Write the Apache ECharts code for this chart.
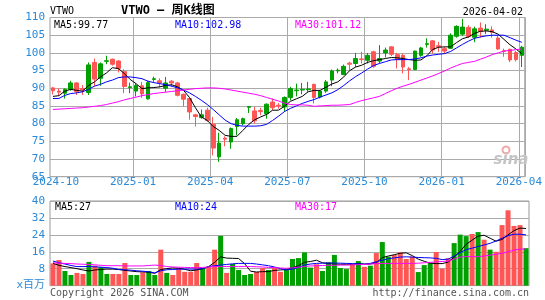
<!DOCTYPE html>
<html><head><meta charset="utf-8">
<script src="https://cdn.jsdelivr.net/npm/echarts@6/dist/echarts.min.js"></script>
<style>html,body{margin:0;padding:0;background:#fff}#c{width:545px;height:300px}</style>
</head><body><div id="c"></div><script>
const dates = [
'2024-09-27','2024-10-04','2024-10-11','2024-10-18','2024-10-25','2024-11-01','2024-11-08','2024-11-15','2024-11-22','2024-11-29',
'2024-12-06','2024-12-13','2024-12-20','2024-12-27','2025-01-03','2025-01-10','2025-01-17','2025-01-24','2025-01-31','2025-02-07',
'2025-02-14','2025-02-21','2025-02-28','2025-03-07','2025-03-14','2025-03-21','2025-03-28','2025-04-04','2025-04-11','2025-04-17',
'2025-04-25','2025-05-02','2025-05-09','2025-05-16','2025-05-23','2025-05-30','2025-06-06','2025-06-13','2025-06-20','2025-06-27',
'2025-07-03','2025-07-11','2025-07-18','2025-07-25','2025-08-01','2025-08-08','2025-08-15','2025-08-22','2025-08-29','2025-09-05',
'2025-09-12','2025-09-19','2025-09-26','2025-10-03','2025-10-10','2025-10-17','2025-10-24','2025-10-31','2025-11-07','2025-11-14',
'2025-11-21','2025-11-28','2025-12-05','2025-12-12','2025-12-19','2025-12-26','2026-01-02','2026-01-09','2026-01-16','2026-01-23',
'2026-01-30','2026-02-06','2026-02-13','2026-02-20','2026-02-27','2026-03-06','2026-03-13','2026-03-20','2026-03-27','2026-04-02'];
const opens = [90.1,89.2,88.6,89.7,91.5,89.9,88.8,97.3,92.8,97.6, 98.2,97.7,94.7,90.2,89.2,90.7,87.0,92.5,92.1,90.0,
92.0,91.5,88.3,87.1,82.5,81.7,83.8,79.8,70.6,75.9, 74.8,79.2,80.0,84.6,83.6,83.7,82.8,86.1,85.2,84.7,
87.4,89.3,89.5,89.6,91.1,87.5,89.2,92.3,94.9,93.9, 97.1,97.0,98.3,97.9,100.3,97.7,100.0,101.7,99.5,99.3,
95.5,95.3,99.3,102.4,103.4,102.0,101.2,101.3,104.7,105.3, 107.2,104.4,107.0,106.4,106.5,104.2,100.6,101.0,100.1,99.3];
const closes = [89.3,88.9,89.7,91.5,89.1,89.6,96.6,92.6,96.9,97.8, 96.8,95.6,90.5,90.4,90.8,88.4,91.6,92.7,91.5,91.5,
91.5,88.0,86.9,83.3,82.0,82.5,80.9,73.1,74.5,75.6, 78.6,81.1,81.4,84.8,80.8,83.4,85.5,84.5,85.0,87.4,
89.9,89.5,89.7,89.8,87.4,89.2,91.8,94.9,95.1,96.2, 96.8,98.4,98.1,99.3,96.2,98.4,100.8,99.6,98.1,96.0,
95.3,100.5,101.4,102.6,100.8,101.7,100.5,105.0,107.5,107.3, 104.6,106.8,106.1,106.7,105.8,101.1,100.4,98.0,98.1,101.6];
const lows = [88.2,87.9,87.1,89.3,88.1,88.1,88.1,90.5,90.7,96.8, 96.4,94.5,88.6,88.6,87.7,87.3,86.8,91.8,90.2,89.0,
90.4,87.7,84.9,81.1,79.2,81.4,80.5,71.0,69.2,73.6, 72.9,76.7,79.5,83.0,80.0,82.4,81.4,83.8,84.2,83.3,
86.6,87.7,88.3,89.0,85.7,87.1,88.7,90.6,94.2,93.7, 95.1,96.0,97.0,97.0,95.8,97.0,98.7,99.1,95.6,94.2,
92.3,95.1,98.9,101.5,99.8,100.3,99.8,101.1,104.3,104.8, 104.2,103.0,104.3,105.3,104.3,100.8,98.9,97.4,97.6,96.0];
const highs = [90.4,90.0,90.0,92.1,91.7,90.9,97.3,98.4,97.3,99.2, 98.4,98.0,95.4,91.6,91.3,91.8,92.1,93.3,92.8,93.2,
92.3,91.8,88.5,87.4,82.8,84.0,84.5,81.9,77.4,76.4, 78.9,81.6,81.7,85.0,84.7,84.5,85.7,87.1,85.8,87.7,
90.4,91.3,91.5,91.8,91.3,89.4,92.3,95.3,95.6,96.7, 97.5,100.0,100.3,100.0,100.6,102.2,101.5,101.9,100.0,99.8,
96.0,100.6,101.7,104.1,103.6,103.1,101.7,105.5,107.8,109.6, 107.8,107.4,108.6,108.1,107.5,105.0,101.2,101.2,100.5,102.0];
const ma5 = [87.7,87.9,89.2,89.7,89.4,89.2,90.8,91.8,93.2,94.3, 95.8,95.6,94.2,92.5,91.3,89.9,90.1,90.2,90.4,90.8,
91.0,90.4,89.4,87.4,84.5,81.9,80.9,79.2,78.1,76.7, 76.4,76.4,78.1,79.8,81.1,81.9,82.6,83.8,83.8,84.9,
86.3,87.0,87.7,89.0,89.4,89.4,90.3,91.2,91.8,93.2, 95.0,96.0,96.5,97.3,97.8,98.1,98.4,98.7,98.6,98.4,
98.1,97.9,98.0,99.2,101.0,101.6,101.7,101.7,102.9,104.0, 104.5,105.5,106.1,106.2,106.0,105.3,103.8,102.3,101.1,99.77];
const ma10 = [87.1,87.1,88.0,88.5,88.7,89.0,89.7,90.6,91.1,91.8, 92.3,93.0,93.2,93.2,93.0,92.7,92.0,91.6,91.3,91.0,
90.6,90.1,89.5,88.7,87.7,86.6,85.4,84.0,82.5,81.0, 80.0,79.5,79.3,79.3,79.3,79.4,79.8,80.9,82.1,83.4,
84.3,85.0,85.7,86.3,86.8,87.5,88.1,88.7,89.6,90.8, 92.1,93.3,94.3,95.4,96.4,97.0,97.5,98.0,98.1,98.1,
98.1,98.3,98.6,99.1,99.4,99.6,99.8,100.4,101.4,102.4, 103.3,104.1,104.5,104.8,105.0,105.0,105.0,104.3,103.6,102.98];
const ma30 = [84.0,84.1,84.2,84.3,84.4,84.5,84.7,84.9,85.1,85.4, 85.8,86.2,86.7,87.1,87.5,87.9,88.2,88.5,88.7,88.9,
89.1,89.3,89.5,89.7,89.9,90.0,90.1,90.1,90.0,89.8, 89.5,89.2,88.9,88.6,88.3,87.9,87.4,86.9,86.4,85.8,
85.4,85.3,85.3,85.2,84.9,85.0,85.1,85.2,85.2,85.3, 85.4,86.0,86.5,86.9,87.3,87.7,88.5,89.3,90.0,90.6,
91.1,91.7,92.3,92.9,93.5,94.2,94.9,95.7,96.4,97.0, 97.3,97.6,98.2,98.8,99.5,100.0,100.5,100.7,100.9,101.12];
const volumes = [10.5,12.1,6.9,5.0,6.0,5.5,11.2,9.4,8.8,5.5, 5.5,5.5,10.7,5.0,5.0,6.3,6.9,5.0,17.0,6.0,
5.0,8.3,6.5,6.5,10.7,8.3,8.8,17.0,23.5,6.0, 10.2,7.4,5.0,5.5,6.5,8.3,7.4,8.3,6.5,7.4,
12.6,13.0,15.7,8.5,10.1,6.9,11.0,14.5,8.3,7.8, 10.1,11.6,8.9,9.4,15.4,20.6,13.7,14.5,15.7,12.6,
13.7,6.4,9.7,10.8,15.9,8.0,12.9,20.1,24.1,23.4, 24.4,25.3,21.7,17.0,16.0,28.6,35.6,28.2,28.6,17.7];
const vma5 = [10.5,9.6,9.0,8.5,8.0,7.4,6.9,7.4,7.6,7.8, 7.8,7.6,7.2,6.9,6.6,6.5,6.3,5.8,7.6,8.0,
8.4,8.2,7.7,7.0,7.4,8.0,9.0,11.0,13.6,13.0, 12.9,12.8,10.4,6.8,6.4,6.6,6.6,7.2,7.4,7.6,
8.4,9.4,11.0,11.4,12.0,10.8,10.4,10.2,10.1,10.1, 10.1,10.4,10.2,10.2,10.8,13.2,14.0,14.6,15.3,15.5,
14.2,12.5,11.5,10.6,10.4,10.4,11.1,13.5,16.2,19.5, 21.5,23.4,23.8,22.4,21.0,21.8,24.0,26.0,27.2,27.0];
const vma10 = [11.6,10.8,10.2,9.5,9.0,9.0,9.0,8.9,8.7,8.5, 8.2,7.6,7.5,7.3,7.0,6.8,6.5,6.0,7.0,7.5,
7.6,7.8,7.8,7.8,7.8,8.0,9.0,9.4,9.7,10.0, 10.3,10.5,10.5,10.5,10.2,9.8,9.4,8.8,8.0,7.4,
7.8,8.6,9.7,10.2,10.5,10.6,10.7,10.7,10.6,10.5, 10.4,10.3,10.1,10.5,11.3,12.0,12.7,13.1,13.5,13.6,
13.5,13.3,13.2,13.1,12.9,12.3,12.5,14.0,15.6,17.0, 17.7,18.5,19.2,20.0,21.1,22.4,23.6,24.3,24.3,24.0];
const vma30 = [10.8,10.6,10.5,10.4,10.2,10.1,10.0,9.8,9.6,9.4, 9.4,9.4,9.3,9.3,9.3,9.3,9.5,9.7,9.5,9.0,
8.8,8.7,8.6,8.5,8.5,8.6,8.8,9.0,9.0,9.0, 9.0,9.0,9.0,9.0,8.9,8.8,8.6,8.5,8.3,8.2,
8.4,8.7,9.0,9.3,9.4,9.5,9.6,9.6,9.7,9.7, 9.8,9.9,10.0,10.2,10.4,10.5,10.5,10.5,10.5,10.5,
10.5,10.6,10.8,11.0,11.2,11.4,11.6,12.5,13.5,13.7, 13.7,13.7,14.0,14.4,14.8,15.3,16.0,16.8,17.2,17.4];
const symbol = 'VTWO';
const chartTitle = 'VTWO – 周K线图';
const quarterMonths = ['01','04','07','10'];

const UP = '#00a000', DOWN = '#ff5555', BLUE = '#2a8ad8', GRID = '#aaaaaa';
const MONO = '"DejaVu Sans Mono", "Noto Sans CJK SC", monospace';
function isQuarterStart(i) {
  if (i <= 0) return false;
  const m = dates[i].slice(5, 7), pm = dates[i - 1].slice(5, 7);
  return m !== pm && quarterMonths.includes(m);
}
const last = dates.length - 1;
const chart = echarts.init(document.getElementById('c'), null, {renderer: 'canvas'});
const txt = (x, y, text, fill, align, font) => ({type: 'text', z: 100, style: {x, y, text, fill, align: align || 'left', verticalAlign: 'middle', font: font || ('10px ' + MONO)}});
chart.setOption({
  animation: false,
  backgroundColor: '#fff',
  grid: [
    {left: 50, right: 16, top: 17.5, height: 159.2, show: true, borderColor: '#999', borderWidth: 1},
    {left: 50, right: 16, top: 201, height: 84.6, show: true, borderColor: '#999', borderWidth: 1}
  ],
  xAxis: [
    {type: 'category', gridIndex: 0, data: dates, boundaryGap: true,
     axisLine: {show: false}, axisTick: {show: false},
     axisLabel: {interval: (i) => isQuarterStart(i), formatter: (v) => v.slice(0, 7), color: BLUE,
       fontFamily: MONO, fontSize: 11, margin: 0, padding: [0, 6, 0, 0], showMaxLabel: true, hideOverlap: false},
     splitLine: {show: true, interval: (i) => isQuarterStart(i) && i > 1, lineStyle: {color: GRID, width: 1}}},
    {type: 'category', gridIndex: 1, data: dates, boundaryGap: true,
     axisLine: {show: false}, axisTick: {show: false}, axisLabel: {show: false}, splitLine: {show: false}}
  ],
  yAxis: [
    {type: 'value', gridIndex: 0, min: 65, max: 110, interval: 5, axisLine: {show: false}, axisTick: {show: false},
     axisLabel: {color: BLUE, fontFamily: MONO, fontSize: 11, margin: 5},
     splitLine: {lineStyle: {color: GRID}}},
    {type: 'value', gridIndex: 1, min: 0, max: 40, interval: 8, axisLine: {show: false}, axisTick: {show: false},
     axisLabel: {color: BLUE, fontFamily: MONO, fontSize: 11, margin: 5, formatter: (v) => v === 0 ? 'x百万' : String(v)},
     splitLine: {lineStyle: {color: GRID}}}
  ],
  series: [
    {type: 'candlestick', xAxisIndex: 0, yAxisIndex: 0, barWidth: '70%', z: 2,
     data: dates.map((d, i) => [opens[i], closes[i], lows[i], highs[i]]),
     itemStyle: {color: UP, color0: DOWN, borderColor: UP, borderColor0: DOWN, borderWidth: 1}},
    {type: 'line', xAxisIndex: 0, yAxisIndex: 0, data: ma5, symbol: 'none', z: 5, lineStyle: {color: '#000', width: 1}},
    {type: 'line', xAxisIndex: 0, yAxisIndex: 0, data: ma10, symbol: 'none', z: 5, lineStyle: {color: '#0000ff', width: 1}},
    {type: 'line', xAxisIndex: 0, yAxisIndex: 0, data: ma30, symbol: 'none', z: 5, lineStyle: {color: '#ff00ff', width: 1}},
    {type: 'bar', xAxisIndex: 1, yAxisIndex: 1, barWidth: 5, z: 2,
     data: volumes.map((v, i) => ({value: v, itemStyle: {color: closes[i] >= opens[i] ? UP : DOWN}}))},
    {type: 'line', xAxisIndex: 1, yAxisIndex: 1, data: vma5, symbol: 'none', z: 5, lineStyle: {color: '#000', width: 1}},
    {type: 'line', xAxisIndex: 1, yAxisIndex: 1, data: vma10, symbol: 'none', z: 5, lineStyle: {color: '#0000ff', width: 1}},
    {type: 'line', xAxisIndex: 1, yAxisIndex: 1, data: vma30, symbol: 'none', z: 5, lineStyle: {color: '#ff00ff', width: 1}}
  ],
  graphic: [
    txt(50, 11.5, symbol, '#000'),
    txt(121, 11, chartTitle, '#000', 'left', 'bold 12px ' + MONO),
    txt(523, 12, dates[last], '#000', 'right'),
    txt(54, 25, 'MA5:' + ma5[last].toFixed(2), '#000'),
    txt(175, 25, 'MA10:' + ma10[last].toFixed(2), '#0000ff'),
    txt(295, 25, 'MA30:' + ma30[last].toFixed(2), '#ff00ff'),
    txt(55, 207.5, 'MA5:' + Math.round(vma5[last]), '#000'),
    txt(175, 207.5, 'MA10:' + Math.round(vma10[last]), '#0000ff'),
    txt(295, 207.5, 'MA30:' + Math.round(vma30[last]), '#ff00ff'),
    txt(50, 293, 'Copyright 2026 SINA.COM', '#555'),
    txt(529, 293, 'http://finance.sina.com.cn', '#555', 'right'),
    {type: 'circle', z: 90, shape: {cx: 506, cy: 150, r: 3.5}, style: {fill: 'none', stroke: '#f2a8a8', lineWidth: 2}},
    {type: 'text', z: 90, style: {x: 511, y: 160, text: 'sina', align: 'center', verticalAlign: 'middle',
      font: 'italic bold 15px "DejaVu Sans"', fill: '#c4c4c4'}}
  ]
});
</script></body></html>
